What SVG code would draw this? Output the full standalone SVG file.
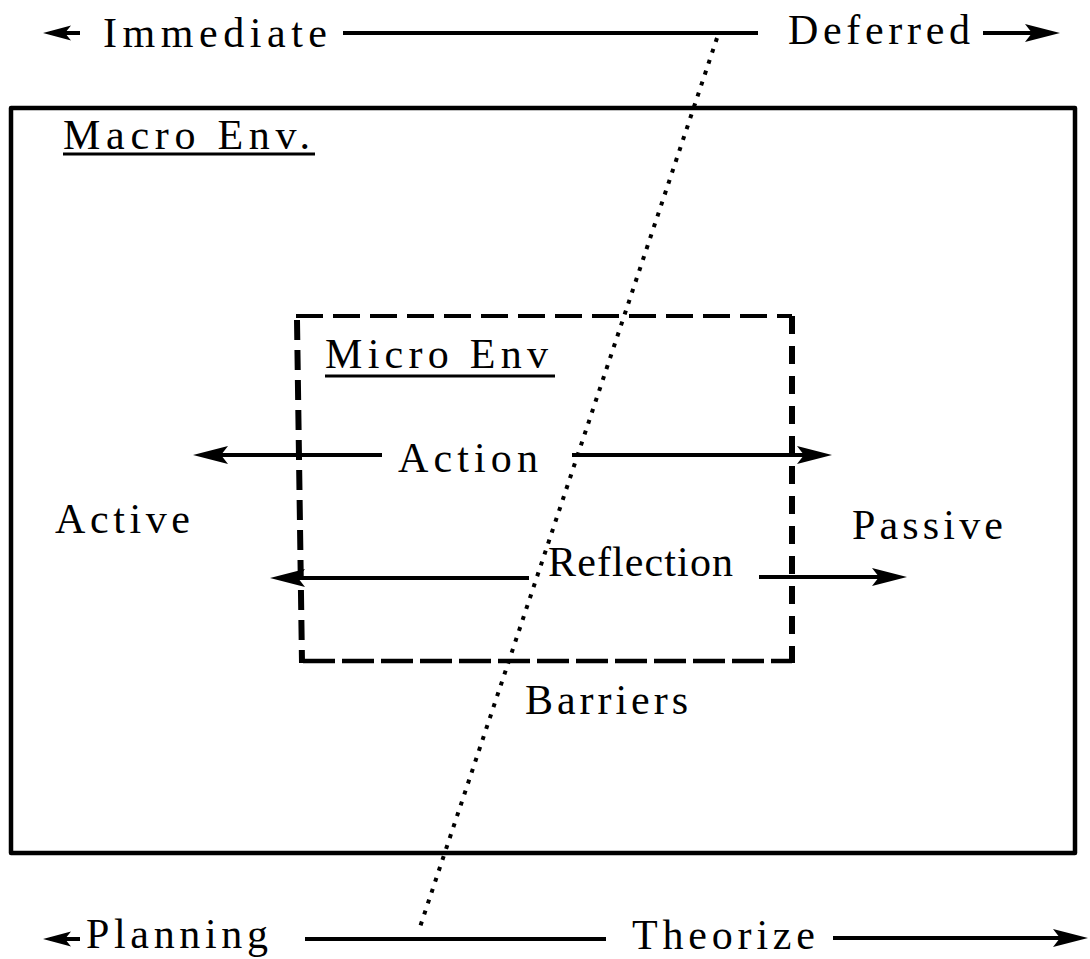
<svg xmlns="http://www.w3.org/2000/svg" width="1090" height="959" viewBox="0 0 1090 959">
<defs>
<style>
.t{font-family:"Liberation Serif","Times New Roman",serif;font-size:42px;fill:#000}
.ln{stroke:#000;stroke-width:4;fill:none}
.ul{stroke:#000;stroke-width:3}
.dash{stroke:#000;fill:none}
</style>
<marker id="ah" markerUnits="userSpaceOnUse" markerWidth="40" markerHeight="22" refX="28" refY="10" orient="auto">
<path d="M36,10 L1,1 L8,10 L1,19 Z" fill="#000"/>
</marker>
<marker id="ahs" markerUnits="userSpaceOnUse" markerWidth="32" markerHeight="18" refX="22" refY="8" orient="auto">
<path d="M29,8 L1,0.5 L7,8 L1,15.5 Z" fill="#000"/>
</marker>
</defs>
<rect width="1090" height="959" fill="#fff"/>

<g id="macro-env">
<path d="M11,108 L1075,108 L1075,853 L11,853 Z" fill="none" stroke="#000" stroke-width="4.5" stroke-linejoin="round"/>
<text class="t" x="63" y="149" textLength="247" lengthAdjust="spacing">Macro Env.</text>
<line class="ul" x1="63" y1="154" x2="315" y2="154"/>
</g>

<g id="micro-env">
<line class="dash" x1="296" y1="316" x2="792" y2="316" stroke-width="4" stroke-dasharray="27 10"/>
<line class="dash" x1="792" y1="316" x2="792" y2="663" stroke-width="6" stroke-dasharray="18 12"/>
<line class="dash" x1="303" y1="661" x2="792" y2="661" stroke-width="4.5" stroke-dasharray="32 7"/>
<line class="dash" x1="297" y1="320" x2="302" y2="663" stroke-width="6" stroke-dasharray="20 10"/>
<text class="t" x="325" y="368" textLength="223" lengthAdjust="spacing">Micro Env</text>
<line class="ul" x1="325" y1="376" x2="555" y2="376"/>
</g>

<g id="labels">
<text class="t" x="103" y="47" textLength="224" lengthAdjust="spacing">Immediate</text>
<text class="t" x="788" y="44" textLength="182" lengthAdjust="spacing">Deferred</text>
<text class="t" x="398" y="472" textLength="140" lengthAdjust="spacing">Action</text>
<text class="t" x="55" y="533" textLength="135" lengthAdjust="spacing">Active</text>
<text class="t" x="852" y="539" textLength="151" lengthAdjust="spacing">Passive</text>
<text class="t" x="548" y="576" textLength="185" lengthAdjust="spacing">Reflection</text>
<text class="t" x="525" y="714" textLength="163" lengthAdjust="spacing">Barriers</text>
<text class="t" x="86" y="948" textLength="182" lengthAdjust="spacing">Planning</text>
<text class="t" x="632" y="949" textLength="183" lengthAdjust="spacing">Theorize</text>
</g>

<g id="connectors">
<line x1="717" y1="38" x2="419" y2="930" stroke="#000" stroke-width="4" stroke-dasharray="4 7.5"/>
<line class="ln" x1="80" y1="33" x2="50" y2="33" marker-end="url(#ahs)"/>
<line class="ln" x1="343" y1="33" x2="758" y2="33"/>
<line class="ln" x1="983" y1="33" x2="1052" y2="33" marker-end="url(#ah)"/>
<line class="ln" x1="80" y1="939" x2="50" y2="939" marker-end="url(#ahs)"/>
<line class="ln" x1="305" y1="939" x2="606" y2="939"/>
<line class="ln" x1="833" y1="938" x2="1080" y2="938" marker-end="url(#ah)"/>
<line class="ln" x1="382" y1="455" x2="201" y2="455" marker-end="url(#ah)"/>
<line class="ln" x1="572" y1="455" x2="824" y2="455" marker-end="url(#ah)"/>
<line class="ln" x1="529" y1="578" x2="278" y2="578" marker-end="url(#ah)"/>
<line class="ln" x1="759" y1="577" x2="899" y2="577" marker-end="url(#ah)"/>
</g>
</svg>
